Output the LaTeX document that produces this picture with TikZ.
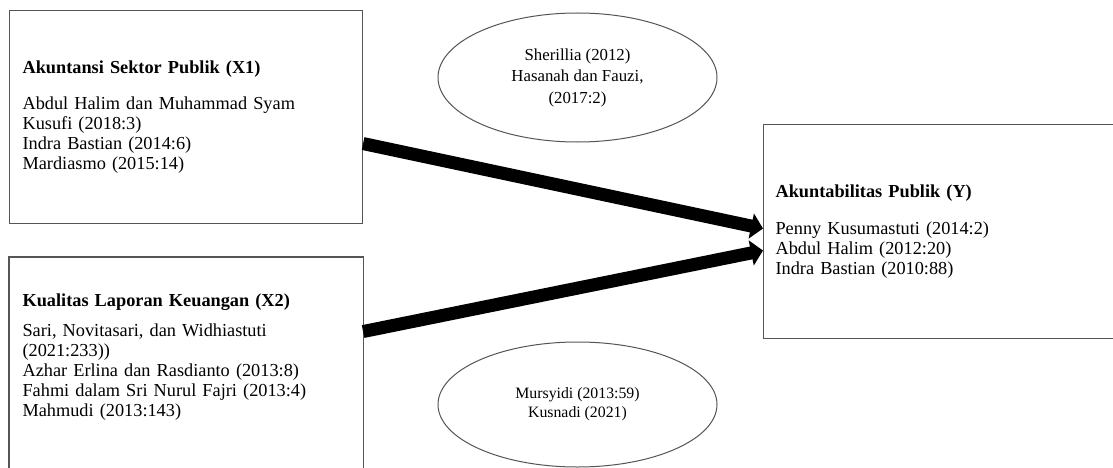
\documentclass[tikz,border=0pt]{standalone}
\usepackage{fontspec}
\setmainfont{Liberation Serif}
\usepackage{tikz}
\usetikzlibrary{arrows.meta,shapes.geometric,positioning}
\definecolor{framegray}{RGB}{85,85,85}

\begin{document}
\begin{tikzpicture}[x=1pt,y=-1pt,
    card/.style={draw=framegray,line width=1.1pt,rectangle,anchor=north west,align=left,
      inner ysep=0pt,font=\fontsize{18.3}{20}\selectfont},
    refcloud/.style={draw=framegray,line width=1pt,ellipse,inner sep=0pt,align=center,
      minimum width=279},
    link/.style={line width=13pt,-{Triangle[width=25pt,length=12pt]}}]
  \clip (0,0) rectangle (1113,468);
  \fill[white] (0,0) rectangle (1113,468);
  % variable boxes
  \node[card,minimum width=353,minimum height=213,text width=327,inner xsep=13] (x1) at (9,10)
    {\textbf{Akuntansi Sektor Publik (X1)}\\[16pt]
     Abdul Halim dan Muhammad Syam\\ Kusufi (2018:3)\\ Indra Bastian (2014:6)\\ Mardiasmo (2015:14)};
  \node[card,draw=none,minimum width=353,minimum height=200,text width=327,inner xsep=13] (x2) at (9,257)
    {\textbf{Kualitas Laporan Keuangan (X2)}\\[10pt]
     Sari, Novitasari, dan Widhiastuti\\ (2021:233))\\ Azhar Erlina dan Rasdianto (2013:8)\\
     Fahmi dalam Sri Nurul Fajri (2013:4)\\ Mahmudi (2013:143)};
  \draw[draw=framegray,line width=1.1pt] ([yshift=-40pt]x2.south west) -- (x2.north west)
    -- (x2.north east) -- ([yshift=-40pt]x2.south east);
  \node[card,minimum width=360,minimum height=214,text width=336,inner xsep=12] (y) at (763,124)
    {\textbf{Akuntabilitas Publik (Y)}\\[17pt]
     Penny Kusumastuti (2014:2)\\ Abdul Halim (2012:20)\\ Indra Bastian (2010:88)};
  % theory ellipses
  \node[refcloud,minimum height=129,font=\fontsize{16.8}{21.5}\selectfont] (e1) at (577.5,77.5)
    {Sherillia (2012)\\ Hasanah dan Fauzi,\\ (2017:2)};
  \node[refcloud,minimum height=125,font=\fontsize{15.8}{19}\selectfont] (e2) at (577.5,404.5)
    {Mursyidi (2013:59)\\ Kusnadi (2021)};
  % influences
  \draw[link] ([yshift=-26.5pt]x1.east) -- ([yshift=3pt]y.west);
  \draw[link] ([yshift=26pt]x2.east) -- ([yshift=-19pt]y.west);
\end{tikzpicture}
\end{document}
